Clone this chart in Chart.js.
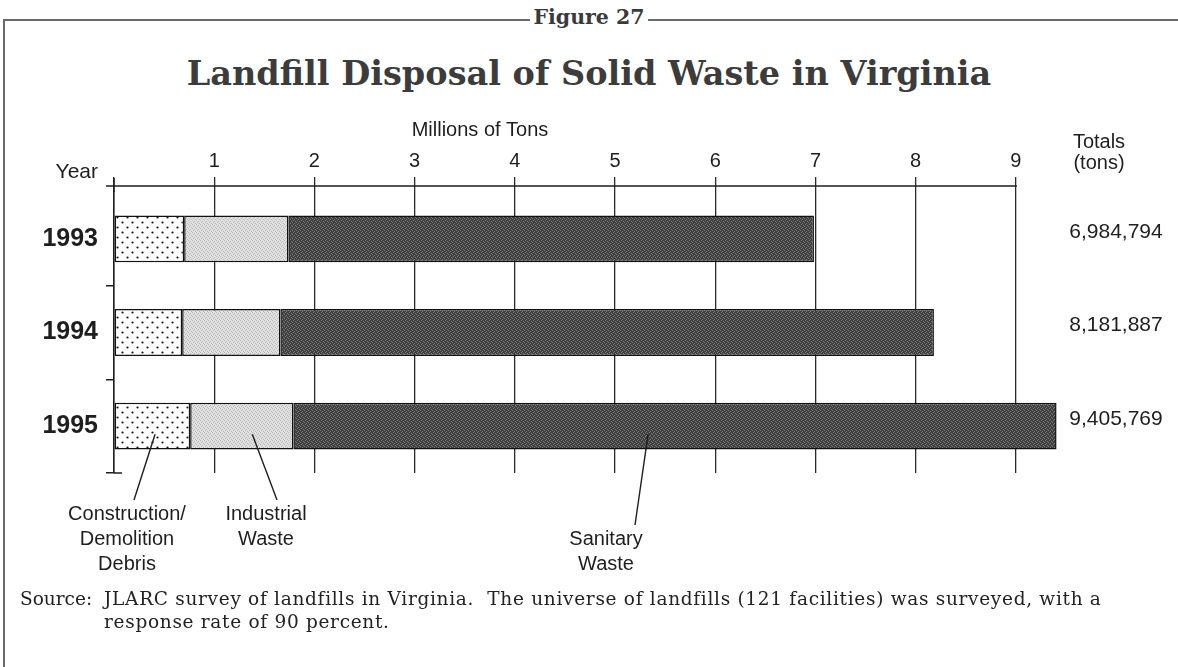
<!DOCTYPE html>
<html>
<head>
<meta charset="utf-8">
<title>Landfill Disposal of Solid Waste in Virginia</title>
<script src="https://cdn.jsdelivr.net/npm/chart.js@4/dist/chart.umd.min.js"></script>
<style>
  html, body { margin: 0; padding: 0; background: #fff; }
  #page { position: relative; width: 1178px; height: 667px; overflow: hidden; background: #fff; }
  #chartBox { position: absolute; left: 0; top: 0; width: 1178px; height: 667px; }
  .rule-top { position: absolute; left: 3px; right: 0; top: 19px; height: 2px; background: #6a6a6a; }
  .rule-left { position: absolute; left: 3px; top: 19px; width: 2px; bottom: 0; background: #6a6a6a; }
  #figLabel { position: absolute; top: 5px; left: 0; width: 1178px; text-align: center; }
  #figLabel span { background: #fff; padding: 0 3px; font: bold 20.5px 'DejaVu Serif', serif; color: #3a3a3a; }
  #title { position: absolute; top: 54px; left: 0; width: 1178px; text-align: center;
           font: bold 33.5px 'DejaVu Serif', serif; color: #3c3c3c; }
  #source { position: absolute; left: 20px; top: 587px; font: 18.5px 'DejaVu Serif', serif; color: #222;
            line-height: 23px; white-space: nowrap; letter-spacing: 0.7px; }
  #source .indent { padding-left: 84px; }
  #source .lead { display: inline-block; width: 84px; letter-spacing: 0; }
</style>
</head>
<body>
<div id="page">
  <div class="rule-top"></div>
  <div class="rule-left"></div>
  <div id="figLabel"><span>Figure 27</span></div>
  <div id="title">Landfill Disposal of Solid Waste in Virginia</div>
  <div id="chartBox"><canvas id="wasteChart"></canvas></div>
  <div id="source">
    <div><span class="lead">Source:</span>JLARC survey of landfills in Virginia.&nbsp; The universe of landfills (121 facilities) was surveyed, with a</div>
    <div class="indent">response rate of 90 percent.</div>
  </div>
</div>

<script>
// ── Data (millions of tons) ─────────────────────────────────────
const years              = ['1993', '1994', '1995'];
const totalTons          = [6984794, 8181887, 9405769];
const constructionDebris = [0.70, 0.68, 0.76];
const industrialWaste    = [1.04, 0.98, 1.03];
// sanitary is whatever is left of each year's reported total
const sanitaryWaste      = totalTons.map((t, i) => t / 1e6 - constructionDebris[i] - industrialWaste[i]);
const xTickValues        = [0, 1, 2, 3, 4, 5, 6, 7, 8, 9];

const SANS = "'Liberation Sans', Arial, sans-serif";
const INK = '#1e1e1e';

// ── Fill textures ───────────────────────────────────────────────
function tile(w, h, paint) {
  const c = document.createElement('canvas');
  c.width = w; c.height = h;
  paint(c.getContext('2d'));
  return c.getContext('2d').createPattern(c, 'repeat');
}

const dotFill = tile(10, 10, g => {
  g.fillStyle = '#fff'; g.fillRect(0, 0, 10, 10);
  g.fillStyle = '#111';
  g.beginPath(); g.arc(2.5, 2.5, 1.1, 0, Math.PI * 2); g.fill();
  g.beginPath(); g.arc(7.5, 7.5, 1.1, 0, Math.PI * 2); g.fill();
});

const lightFill = tile(4, 4, g => {
  g.fillStyle = '#e2e2e2'; g.fillRect(0, 0, 4, 4);
  g.fillStyle = '#b4b4b4';
  [[0, 0], [2, 1], [1, 2], [3, 3]].forEach(([x, y]) => g.fillRect(x, y, 1, 1));
});

const darkFill = tile(4, 4, g => {
  g.fillStyle = '#3f3f3f'; g.fillRect(0, 0, 4, 4);
  g.fillStyle = '#7c7c7c';
  [[1, 0], [3, 1], [0, 2], [2, 3]].forEach(([x, y]) => g.fillRect(x, y, 1, 1));
});

// ── Labels, leaders, totals column and axis extras ──────────────
const callouts = [
  { lines: ['Construction/', 'Demolition', 'Debris'], cx: 127, cy: 514, anchor: 0.41, end: [134, 500] },
  { lines: ['Industrial', 'Waste'],                  cx: 266, cy: 514, anchor: 1.38, end: [277, 500] },
  { lines: ['Sanitary', 'Waste'],                    cx: 606, cy: 539, anchor: 5.33, end: [635, 525] },
];

const decor = {
  id: 'decor',
  afterDraw(chart) {
    const { ctx, chartArea: a, scales: { x, y } } = chart;
    const x0 = x.getPixelForValue(0);
    const axisY = a.top - 6;
    ctx.save();
    ctx.strokeStyle = INK;
    ctx.lineWidth = 1.5;

    // top value axis runs only to 9
    ctx.beginPath();
    ctx.moveTo(x0 - 8, axisY);
    ctx.lineTo(x.getPixelForValue(9) + 1, axisY);
    // year axis pokes up through it
    ctx.moveTo(x0, a.top - 14);
    ctx.lineTo(x0, a.top);
    // foot of the year axis
    ctx.moveTo(x0, a.bottom);
    ctx.lineTo(x0 + 8, a.bottom);
    ctx.stroke();

    ctx.fillStyle = INK;
    ctx.textAlign = 'center';
    ctx.textBaseline = 'middle';
    ctx.font = `20px ${SANS}`;
    ctx.fillText('Millions of Tons', 480, 130);
    ctx.fillText('Totals', 1099, 142);
    ctx.fillText('(tons)', 1099, 163);

    ctx.textAlign = 'right';
    ctx.font = `21px ${SANS}`;
    ctx.fillText('Year', 98, 172);

    ctx.textAlign = 'center';
    ctx.font = `21px ${SANS}`;
    totalTons.forEach((t, i) => {
      ctx.fillText(t.toLocaleString('en-US'), 1116, y.getPixelForValue(i) - 7);
    });

    // callouts hang off the 1995 bar
    const barY = y.getPixelForValue(years.length - 1) + 8;
    ctx.font = `20px ${SANS}`;
    callouts.forEach(c => {
      ctx.beginPath();
      ctx.moveTo(x.getPixelForValue(c.anchor), barY);
      ctx.lineTo(c.end[0], c.end[1]);
      ctx.lineWidth = 1.4;
      ctx.stroke();
      c.lines.forEach((ln, k) => ctx.fillText(ln, c.cx, c.cy + k * 25));
    });
    ctx.restore();
  }
};

// ── Chart ───────────────────────────────────────────────────────
const segment = (label, data, fill) => ({
  label, data,
  backgroundColor: fill,
  borderColor: '#111',
  borderWidth: 1.5,
  borderSkipped: false,
  barPercentage: 0.5,
  categoryPercentage: 1,
});

new Chart(document.getElementById('wasteChart'), {
  type: 'bar',
  data: {
    labels: years,
    datasets: [
      segment('Construction/Demolition Debris', constructionDebris, dotFill),
      segment('Industrial Waste', industrialWaste, lightFill),
      segment('Sanitary Waste', sanitaryWaste, darkFill),
    ]
  },
  options: {
    indexAxis: 'y',
    responsive: true,
    maintainAspectRatio: false,
    animation: false,
    layout: { padding: { top: 142, left: 14, right: 112, bottom: 194 } },
    plugins: { legend: { display: false }, tooltip: { enabled: false } },
    scales: {
      x: {
        position: 'top',
        stacked: true,
        min: 0,
        max: 9.5,
        afterFit: s => { s.height = 50; },
        afterBuildTicks: s => { s.ticks = xTickValues.map(v => ({ value: v })); },
        ticks: {
          callback: v => (v === 0 ? '' : v),
          color: INK,
          font: { family: SANS, size: 20 },
          padding: 4,
          maxRotation: 0,
        },
        grid: { color: '#2a2a2a', lineWidth: 1.3, tickLength: 15 },
        border: { display: false },
      },
      y: {
        stacked: true,
        afterFit: s => { s.width = 100; },
        ticks: {
          color: INK,
          font: { family: SANS, size: 25, weight: 'bold' },
          padding: 8,
        },
        grid: {
          offset: true,
          drawOnChartArea: false,
          tickLength: 8,
          lineWidth: 1.5,
          // the top boundary tick would double the value axis line
          color: c => (c.index === 0 ? 'rgba(0,0,0,0)' : INK),
        },
        border: { color: INK, width: 1.5 },
      }
    }
  },
  plugins: [decor]
});
</script>
</body>
</html>
